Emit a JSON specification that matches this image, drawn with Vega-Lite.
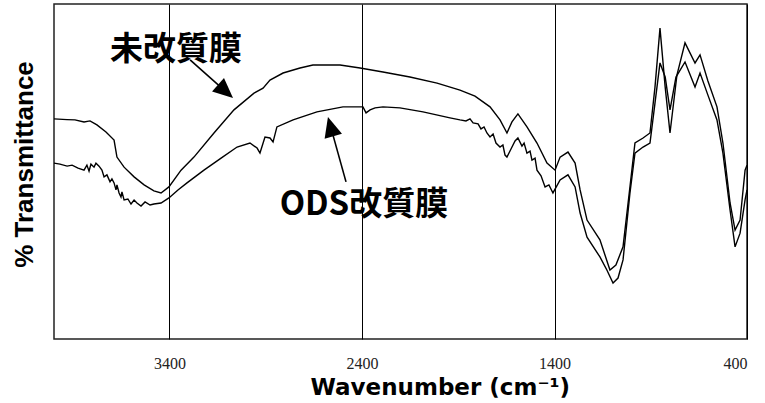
{
  "$schema": "https://vega.github.io/schema/vega-lite/v6.json",
  "width": 693,
  "height": 335,
  "autosize": {"type": "none"},
  "padding": {"left": 54, "top": 4, "right": 18, "bottom": 64},
  "background": "white",
  "config": {"view": {"stroke": "#222", "strokeWidth": 1.5}},
  "datasets": {
    "spectra": [
      {"s": "未改質膜", "wn": 4000, "t": 65.7}, {"s": "未改質膜", "wn": 3932, "t": 65.5}, {"s": "未改質膜", "wn": 3891, "t": 65.4}, {"s": "未改質膜", "wn": 3844, "t": 64.8}, {"s": "未改質膜", "wn": 3813, "t": 65.1}, {"s": "未改質膜", "wn": 3777, "t": 63.9}, {"s": "未改質膜", "wn": 3730, "t": 61.8}, {"s": "未改質膜", "wn": 3688, "t": 59.4}, {"s": "未改質膜", "wn": 3673, "t": 54.3}, {"s": "未改質膜", "wn": 3636, "t": 51.3}, {"s": "未改質膜", "wn": 3584, "t": 48.4}, {"s": "未改質膜", "wn": 3532, "t": 46.0}, {"s": "未改質膜", "wn": 3481, "t": 44.2}, {"s": "未改質膜", "wn": 3444, "t": 43.6}, {"s": "未改質膜", "wn": 3403, "t": 45.4}, {"s": "未改質膜", "wn": 3340, "t": 50.4}, {"s": "未改質膜", "wn": 3273, "t": 54.3}, {"s": "未改質膜", "wn": 3169, "t": 61.5}, {"s": "未改質膜", "wn": 3065, "t": 68.4}, {"s": "未改質膜", "wn": 2961, "t": 73.4}, {"s": "未改質膜", "wn": 2914, "t": 74.9}, {"s": "未改質膜", "wn": 2878, "t": 77.3}, {"s": "未改質膜", "wn": 2810, "t": 79.4}, {"s": "未改質膜", "wn": 2722, "t": 80.9}, {"s": "未改質膜", "wn": 2655, "t": 81.8}, {"s": "未改質膜", "wn": 2514, "t": 81.8}, {"s": "未改質膜", "wn": 2410, "t": 80.9}, {"s": "未改質膜", "wn": 2291, "t": 79.7}, {"s": "未改質膜", "wn": 2151, "t": 78.2}, {"s": "未改質膜", "wn": 2010, "t": 76.4}, {"s": "未改質膜", "wn": 1891, "t": 74.3}, {"s": "未改質膜", "wn": 1813, "t": 72.5}, {"s": "未改質膜", "wn": 1735, "t": 69.3}, {"s": "未改質膜", "wn": 1683, "t": 65.4}, {"s": "未改質膜", "wn": 1647, "t": 61.5}, {"s": "未改質膜", "wn": 1621, "t": 64.8}, {"s": "未改質膜", "wn": 1590, "t": 67.2}, {"s": "未改質膜", "wn": 1543, "t": 63.3}, {"s": "未改質膜", "wn": 1491, "t": 58.5}, {"s": "未改質膜", "wn": 1439, "t": 52.5}, {"s": "未改質膜", "wn": 1397, "t": 50.4}, {"s": "未改質膜", "wn": 1371, "t": 54.3}, {"s": "未改質膜", "wn": 1330, "t": 55.8}, {"s": "未改質膜", "wn": 1293, "t": 52.5}, {"s": "未改質膜", "wn": 1267, "t": 44.5}, {"s": "未改質膜", "wn": 1231, "t": 35.5}, {"s": "未改質膜", "wn": 1164, "t": 29.6}, {"s": "未改質膜", "wn": 1112, "t": 20.6}, {"s": "未改質膜", "wn": 1081, "t": 22.1}, {"s": "未改質膜", "wn": 1044, "t": 27.5}, {"s": "未改質膜", "wn": 1008, "t": 45.4}, {"s": "未改質膜", "wn": 982, "t": 58.5}, {"s": "未改質膜", "wn": 940, "t": 60.0}, {"s": "未改質膜", "wn": 904, "t": 61.5}, {"s": "未改質膜", "wn": 878, "t": 75.2}, {"s": "未改質膜", "wn": 852, "t": 92.8}, {"s": "未改質膜", "wn": 825, "t": 75.2}, {"s": "未改質膜", "wn": 800, "t": 61.5}, {"s": "未改質膜", "wn": 764, "t": 78.8}, {"s": "未改質膜", "wn": 722, "t": 88.4}, {"s": "未改質膜", "wn": 670, "t": 82.4}, {"s": "未改質膜", "wn": 644, "t": 84.8}, {"s": "未改質膜", "wn": 603, "t": 77.0}, {"s": "未改質膜", "wn": 556, "t": 69.3}, {"s": "未改質膜", "wn": 525, "t": 58.5}, {"s": "未改質膜", "wn": 488, "t": 40.6}, {"s": "未改質膜", "wn": 462, "t": 32.5}, {"s": "未改質膜", "wn": 436, "t": 35.5}, {"s": "未改質膜", "wn": 410, "t": 50.4}, {"s": "未改質膜", "wn": 400, "t": 51.9},
      {"s": "ODS改質膜", "wn": 4000, "t": 52.5}, {"s": "ODS改質膜", "wn": 3969, "t": 52.2}, {"s": "ODS改質膜", "wn": 3932, "t": 51.6}, {"s": "ODS改質膜", "wn": 3906, "t": 51.9}, {"s": "ODS改質膜", "wn": 3875, "t": 51.0}, {"s": "ODS改質膜", "wn": 3844, "t": 50.4}, {"s": "ODS改質膜", "wn": 3829, "t": 51.9}, {"s": "ODS改質膜", "wn": 3818, "t": 50.1}, {"s": "ODS改質膜", "wn": 3808, "t": 52.2}, {"s": "ODS改質膜", "wn": 3792, "t": 51.3}, {"s": "ODS改質膜", "wn": 3782, "t": 52.5}, {"s": "ODS改質膜", "wn": 3766, "t": 51.6}, {"s": "ODS改質膜", "wn": 3751, "t": 50.4}, {"s": "ODS改質膜", "wn": 3740, "t": 48.4}, {"s": "ODS改質膜", "wn": 3725, "t": 49.0}, {"s": "ODS改質膜", "wn": 3709, "t": 46.9}, {"s": "ODS改質膜", "wn": 3699, "t": 47.8}, {"s": "ODS改質膜", "wn": 3688, "t": 46.6}, {"s": "ODS改質膜", "wn": 3678, "t": 44.5}, {"s": "ODS改質膜", "wn": 3673, "t": 46.0}, {"s": "ODS改質膜", "wn": 3662, "t": 43.6}, {"s": "ODS改質膜", "wn": 3652, "t": 42.4}, {"s": "ODS改質膜", "wn": 3647, "t": 43.9}, {"s": "ODS改質膜", "wn": 3636, "t": 41.5}, {"s": "ODS改質膜", "wn": 3616, "t": 41.8}, {"s": "ODS改質膜", "wn": 3600, "t": 40.3}, {"s": "ODS改質膜", "wn": 3584, "t": 41.5}, {"s": "ODS改質膜", "wn": 3569, "t": 40.6}, {"s": "ODS改質膜", "wn": 3548, "t": 39.7}, {"s": "ODS改質膜", "wn": 3527, "t": 40.9}, {"s": "ODS改質膜", "wn": 3501, "t": 40.0}, {"s": "ODS改質膜", "wn": 3481, "t": 40.3}, {"s": "ODS改質膜", "wn": 3444, "t": 40.6}, {"s": "ODS改質膜", "wn": 3403, "t": 42.1}, {"s": "ODS改質膜", "wn": 3356, "t": 44.5}, {"s": "ODS改質膜", "wn": 3309, "t": 46.6}, {"s": "ODS改質膜", "wn": 3221, "t": 50.4}, {"s": "ODS改質膜", "wn": 3132, "t": 54.0}, {"s": "ODS改質膜", "wn": 3049, "t": 57.3}, {"s": "ODS改質膜", "wn": 2982, "t": 58.5}, {"s": "ODS改質膜", "wn": 2945, "t": 57.0}, {"s": "ODS改質膜", "wn": 2930, "t": 55.5}, {"s": "ODS改質膜", "wn": 2904, "t": 60.3}, {"s": "ODS改質膜", "wn": 2878, "t": 60.0}, {"s": "ODS改質膜", "wn": 2862, "t": 58.8}, {"s": "ODS改質膜", "wn": 2842, "t": 63.3}, {"s": "ODS改質膜", "wn": 2758, "t": 65.4}, {"s": "ODS改質膜", "wn": 2634, "t": 67.8}, {"s": "ODS改質膜", "wn": 2499, "t": 69.3}, {"s": "ODS改質膜", "wn": 2395, "t": 69.3}, {"s": "ODS改質膜", "wn": 2379, "t": 67.5}, {"s": "ODS改質膜", "wn": 2358, "t": 68.4}, {"s": "ODS改質膜", "wn": 2332, "t": 69.0}, {"s": "ODS改質膜", "wn": 2291, "t": 69.3}, {"s": "ODS改質膜", "wn": 2203, "t": 69.0}, {"s": "ODS改質膜", "wn": 2083, "t": 67.8}, {"s": "ODS改質膜", "wn": 1943, "t": 66.0}, {"s": "ODS改質膜", "wn": 1891, "t": 65.4}, {"s": "ODS改質膜", "wn": 1860, "t": 65.1}, {"s": "ODS改質膜", "wn": 1839, "t": 65.7}, {"s": "ODS改質膜", "wn": 1823, "t": 64.5}, {"s": "ODS改質膜", "wn": 1797, "t": 64.2}, {"s": "ODS改質膜", "wn": 1782, "t": 62.7}, {"s": "ODS改質膜", "wn": 1766, "t": 63.3}, {"s": "ODS改質膜", "wn": 1751, "t": 61.5}, {"s": "ODS改質膜", "wn": 1735, "t": 60.3}, {"s": "ODS改質膜", "wn": 1719, "t": 61.2}, {"s": "ODS改質膜", "wn": 1704, "t": 58.5}, {"s": "ODS改質膜", "wn": 1683, "t": 57.3}, {"s": "ODS改質膜", "wn": 1668, "t": 57.9}, {"s": "ODS改質膜", "wn": 1657, "t": 54.9}, {"s": "ODS改質膜", "wn": 1647, "t": 54.3}, {"s": "ODS改質膜", "wn": 1626, "t": 56.7}, {"s": "ODS改質膜", "wn": 1605, "t": 59.1}, {"s": "ODS改質膜", "wn": 1590, "t": 60.0}, {"s": "ODS改質膜", "wn": 1569, "t": 57.6}, {"s": "ODS改質膜", "wn": 1558, "t": 58.5}, {"s": "ODS改質膜", "wn": 1543, "t": 55.5}, {"s": "ODS改質膜", "wn": 1527, "t": 56.1}, {"s": "ODS改質膜", "wn": 1517, "t": 53.4}, {"s": "ODS改質膜", "wn": 1501, "t": 54.0}, {"s": "ODS改質膜", "wn": 1491, "t": 50.4}, {"s": "ODS改質膜", "wn": 1470, "t": 48.7}, {"s": "ODS改質膜", "wn": 1449, "t": 45.4}, {"s": "ODS改質膜", "wn": 1429, "t": 46.0}, {"s": "ODS改質膜", "wn": 1408, "t": 43.6}, {"s": "ODS改質膜", "wn": 1371, "t": 47.5}, {"s": "ODS改質膜", "wn": 1330, "t": 49.0}, {"s": "ODS改質膜", "wn": 1293, "t": 45.4}, {"s": "ODS改質膜", "wn": 1267, "t": 37.6}, {"s": "ODS改質膜", "wn": 1231, "t": 30.4}, {"s": "ODS改質膜", "wn": 1164, "t": 24.5}, {"s": "ODS改質膜", "wn": 1128, "t": 20.6}, {"s": "ODS改質膜", "wn": 1096, "t": 16.7}, {"s": "ODS改質膜", "wn": 1070, "t": 18.2}, {"s": "ODS改質膜", "wn": 1044, "t": 23.6}, {"s": "ODS改質膜", "wn": 1008, "t": 43.6}, {"s": "ODS改質膜", "wn": 982, "t": 55.5}, {"s": "ODS改質膜", "wn": 940, "t": 57.3}, {"s": "ODS改質膜", "wn": 904, "t": 58.5}, {"s": "ODS改質膜", "wn": 878, "t": 70.4}, {"s": "ODS改質膜", "wn": 852, "t": 82.4}, {"s": "ODS改質膜", "wn": 825, "t": 78.2}, {"s": "ODS改質膜", "wn": 800, "t": 68.4}, {"s": "ODS改質膜", "wn": 769, "t": 78.2}, {"s": "ODS改質膜", "wn": 722, "t": 82.7}, {"s": "ODS改質膜", "wn": 670, "t": 75.2}, {"s": "ODS改質膜", "wn": 644, "t": 79.4}, {"s": "ODS改質膜", "wn": 603, "t": 72.8}, {"s": "ODS改質膜", "wn": 556, "t": 65.4}, {"s": "ODS改質膜", "wn": 525, "t": 55.5}, {"s": "ODS改質膜", "wn": 488, "t": 38.5}, {"s": "ODS改質膜", "wn": 462, "t": 27.5}, {"s": "ODS改質膜", "wn": 436, "t": 31.6}, {"s": "ODS改質膜", "wn": 410, "t": 41.5}, {"s": "ODS改質膜", "wn": 400, "t": 44.5}
    ],
    "labels": [
      {"label": "未改質膜", "wn": 3366, "t": 86.4},
      {"label": "ODS改質膜", "wn": 2390, "t": 40.0}
    ],
    "arrows": [
      {"wn": 3293, "t": 83.3, "wn2": 3109, "t2": 73.9, "ang": 131.5},
      {"wn": 2483, "t": 46.9, "wn2": 2563, "t2": 63.4, "ang": -15.5}
    ]
  },
  "layer": [
    {
      "data": {"name": "spectra"},
      "mark": {"type": "line", "color": "black", "strokeWidth": 1.4},
      "encoding": {
        "x": {
          "field": "wn", "type": "quantitative",
          "scale": {"domain": [400, 4000], "reverse": true, "nice": false, "zero": false},
          "axis": {
            "values": [3400, 2400, 1400, 400], "format": "d",
            "grid": true, "gridColor": "black", "gridWidth": 1, "gridOpacity": 1,
            "ticks": false, "domain": false,
            "labelFont": "Liberation Serif", "labelFontSize": 16, "labelColor": "#222",
            "labelBaseline": "alphabetic", "labelPadding": 29,
            "title": "Wavenumber (cm⁻¹)",
            "titleFont": "DejaVu Sans", "titleFontSize": 23, "titleFontWeight": "bold", "titleColor": "black",
            "titleX": 256, "titleY": 55, "titleAlign": "left", "titleBaseline": "alphabetic"
          }
        },
        "y": {
          "field": "t", "type": "quantitative",
          "scale": {"domain": [0, 100], "nice": false},
          "axis": {
            "labels": false, "ticks": false, "domain": false, "grid": false,
            "title": "% Transmittance",
            "titleFont": "Liberation Sans", "titleFontSize": 26, "titleFontWeight": "bold", "titleColor": "black",
            "titleX": -22, "titleY": 160, "titleAlign": "center", "titleBaseline": "alphabetic", "titleAngle": -90
          }
        },
        "detail": {"field": "s"}
      }
    },
    {
      "data": {"name": "labels"},
      "mark": {"type": "text", "font": "Noto Sans CJK JP", "fontWeight": "bold", "fontSize": 33, "align": "center", "baseline": "middle", "color": "black"},
      "encoding": {
        "x": {"field": "wn", "type": "quantitative"},
        "y": {"field": "t", "type": "quantitative"},
        "text": {"field": "label"}
      }
    },
    {
      "data": {"name": "arrows"},
      "mark": {"type": "rule", "color": "black", "strokeWidth": 1.6},
      "encoding": {
        "x": {"field": "wn", "type": "quantitative"},
        "y": {"field": "t", "type": "quantitative"},
        "x2": {"field": "wn2"},
        "y2": {"field": "t2"}
      }
    },
    {
      "data": {"name": "arrows"},
      "mark": {"type": "point", "shape": "M0,-1L-0.9,1L0.9,1Z", "filled": true, "color": "black", "opacity": 1, "size": 400},
      "encoding": {
        "x": {"field": "wn2", "type": "quantitative"},
        "y": {"field": "t2", "type": "quantitative"},
        "angle": {"field": "ang", "type": "quantitative", "scale": null}
      }
    }
  ]
}
